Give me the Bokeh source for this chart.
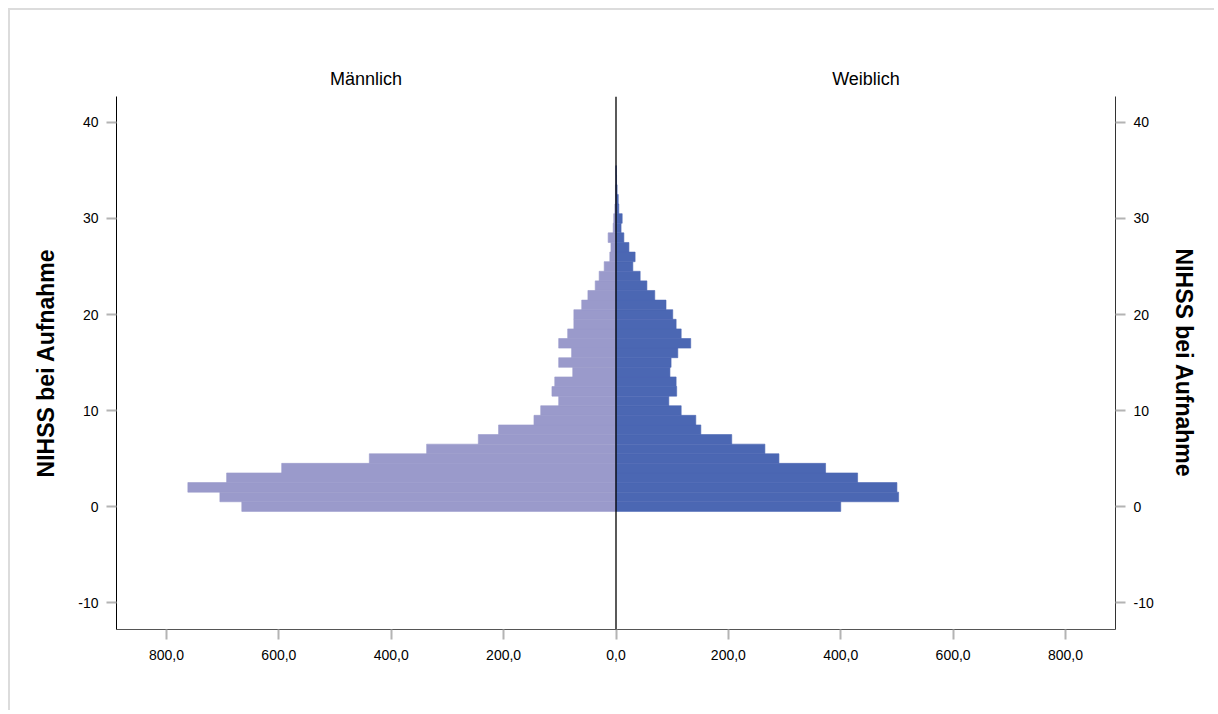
from bokeh.plotting import figure
from bokeh.models import Range1d, LinearAxis, FixedTicker, Span, ColumnDataSource
from bokeh.embed import file_html
from bokeh.resources import INLINE

# NIHSS score at admission (bins)
scores = list(range(36))
# counts, male (Männlich)
male = [666, 705, 762, 693, 595, 439, 337, 245, 209, 146, 134, 102, 114, 109, 77, 102, 79, 102,
        86, 75, 75, 61, 50, 37, 30, 21, 11, 9, 14, 5, 4, 2, 1, 1, 0, 0]
# counts, female (Weiblich)
female = [400, 503, 500, 430, 373, 290, 265, 206, 151, 142, 116, 94, 108, 107, 96, 98, 110, 133,
          116, 107, 101, 89, 69, 55, 43, 30, 34, 23, 14, 9, 11, 5, 4, 2, 1, 0.5]

panel_titles = ["Männlich", "Weiblich"]
y_title = "NIHSS bei Aufnahme"
x_ticks = [-800, -600, -400, -200, 0, 200, 400, 600, 800]
x_tick_labels = ["800,0", "600,0", "400,0", "200,0", "0,0", "200,0", "400,0", "600,0", "800,0"]
y_ticks = [-10, 0, 10, 20, 30, 40]
y_tick_labels = ["-10", "0", "10", "20", "30", "40"]

FONT = "Liberation Sans"
X_MAX = 889
MALE_C = "#9a9acb"
FEMALE_C = "#4b67b3"

src_m = ColumnDataSource(dict(y=scores, left=[-v for v in male], right=[0] * len(male)))
src_f = ColumnDataSource(dict(y=scores, left=[0] * len(female), right=female))

p = figure(width=1206, height=702,
           x_range=Range1d(-X_MAX, X_MAX), y_range=Range1d(-12.8, 42.7),
           output_backend="svg", toolbar_location=None,
           min_border_left=106, min_border_right=101, min_border_top=86, min_border_bottom=83)
p.margin = (8, 0, 0, 8)
p.styles = {"border-top": "2px solid #dcdcdc", "border-left": "2px solid #dcdcdc"}
p.outline_line_color = None
p.xgrid.visible = False
p.ygrid.visible = False

p.hbar(y="y", left="left", right="right", height=1.0, source=src_m,
       fill_color=MALE_C, line_color=MALE_C, line_width=0.6)
p.hbar(y="y", left="left", right="right", height=1.0, source=src_f,
       fill_color=FEMALE_C, line_color=FEMALE_C, line_width=0.6)

# centre line between the two panels
p.add_layout(Span(location=0, dimension="height", line_color="black", line_width=1.3))


def style_axis(ax, line_color):
    ax.axis_line_color = line_color
    ax.major_tick_line_color = "#b4b4b4"
    ax.major_tick_line_width = 2
    ax.major_tick_out = 10
    ax.major_tick_in = 0
    ax.minor_tick_line_color = None
    ax.major_label_text_font = FONT
    ax.major_label_text_font_size = "14px"
    ax.major_label_text_color = "black"
    ax.major_label_standoff = 8


def style_y(ax, line_color, standoff):
    ax.ticker = FixedTicker(ticks=y_ticks)
    ax.major_label_overrides = {t: l for t, l in zip(y_ticks, y_tick_labels)}
    style_axis(ax, line_color)
    ax.axis_label = y_title
    ax.axis_label_text_font = FONT
    ax.axis_label_text_font_style = "bold"
    ax.axis_label_text_font_size = "23px"
    ax.axis_label_text_color = "black"
    ax.axis_label_standoff = standoff


xa = p.xaxis[0]
xa.ticker = FixedTicker(ticks=x_ticks)
xa.major_label_overrides = {t: l for t, l in zip(x_ticks, x_tick_labels)}
style_axis(xa, "#555555")
xa.major_label_standoff = 10

style_y(p.yaxis[0], "black", 16)
ra = LinearAxis()
style_y(ra, "#333333", 14)
p.add_layout(ra, "right")

# panel titles as labels of a bare axis above the frame
title_pos = [-445, 445]
ta = LinearAxis(ticker=FixedTicker(ticks=title_pos),
                major_label_overrides={t: s for t, s in zip(title_pos, panel_titles)})
ta.axis_line_color = None
ta.major_tick_line_color = None
ta.minor_tick_line_color = None
ta.major_tick_out = 0
ta.major_tick_in = 0
ta.major_label_standoff = 8
ta.major_label_text_font = FONT
ta.major_label_text_font_size = "18px"
ta.major_label_text_color = "black"
p.add_layout(ta, "above")

open("out.html", "w").write(file_html(p, INLINE))
